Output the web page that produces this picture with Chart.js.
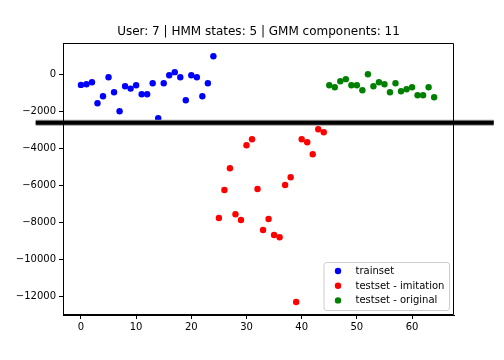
<!DOCTYPE html>
<html><head><meta charset="utf-8">
<script src="https://cdn.jsdelivr.net/npm/chart.js@4/dist/chart.umd.min.js"></script>
<style>html,body{margin:0;padding:0;background:#fff}#wrap{width:504px;height:360px}</style>
</head><body><div id="wrap"><canvas id="c" width="504" height="360"></canvas></div>
<script>
const titleText = 'User: 7 | HMM states: 5 | GMM components: 11';
const legendLabels = ['trainset', 'testset - imitation', 'testset - original'];
const seriesColors = ['#0000ff', '#ff0000', '#008000'];

const trainX = [0,1,2,3,4,5,6,7,8,9,10,11,12,13,14,15,16,17,18,19,20,21,22,23,24];
const trainY = [-543,-505,-396,-1537,-1157,-125,-939,-1971,-614,-744,-559,-1048,-1048,-451,-2351,-451,-16,147,-125,-1374,-16,-125,-1157,-451,1015];

const imitX = [25,26,27,28,29,30,31,32,33,34,35,36,37,38,39,40,41,42,43,44];
const imitY = [-7765,-6245,-5066,-7564,-7874,-3817,-3491,-6190,-8417,-7819,-8688,-8813,-5973,-5555,-12326,-3491,-3654,-4306,-2948,-3111];

const origX = [45,46,47,48,49,50,51,52,53,54,55,56,57,58,59,60,61,62,63,64];
const origY = [-559,-668,-342,-233,-559,-559,-831,38,-614,-396,-505,-939,-451,-885,-777,-668,-1102,-1102,-668,-1211];

const thresholdX = [-8.2, 74.8];
const thresholdY = [-2600, -2600];

const xTicks = [0,10,20,30,40,50,60];
const yTicks = [-12000,-10000,-8000,-6000,-4000,-2000,0];

const pts = (xs, ys) => xs.map((x, i) => ({x: x, y: ys[i]}));
const FONT = 'DejaVu Sans';

const boxPlugin = {
  id: 'boxAndLegend',
  afterDraw(chart) {
    const ctx = chart.ctx, ca = chart.chartArea;
    ctx.save();
    ctx.strokeStyle = '#000';
    ctx.lineWidth = 1;
    ctx.beginPath();
    ctx.rect(Math.round(ca.left) + 0.5, Math.round(ca.top) + 0.5,
             Math.round(ca.right - ca.left) - 1, Math.round(ca.bottom - ca.top) - 1);
    ctx.stroke();
    // title
    ctx.fillStyle = '#000';
    ctx.font = '12px "' + FONT + '"';
    ctx.textAlign = 'center';
    ctx.textBaseline = 'middle';
    ctx.fillText(titleText, (ca.left + ca.right) / 2, ca.top - 11);
    // legend
    const bw = 125.5, bh = 48;
    const bx = ca.right - 5 - bw, by = ca.bottom - 5 - bh;
    ctx.beginPath();
    if (ctx.roundRect) ctx.roundRect(bx + 0.5, by + 0.5, bw, bh, 2.5); else ctx.rect(bx + 0.5, by + 0.5, bw, bh);
    ctx.fillStyle = 'rgba(255,255,255,0.8)';
    ctx.fill();
    ctx.strokeStyle = '#cccccc';
    ctx.stroke();
    ctx.font = '10px "' + FONT + '"';
    ctx.textBaseline = 'middle';
    ctx.textAlign = 'left';
    legendLabels.forEach((lab, i) => {
      const y = by + 9 + i * 14.7;
      ctx.beginPath();
      ctx.arc(bx + 14.5, y, 3.2, 0, Math.PI * 2);
      ctx.fillStyle = seriesColors[i];
      ctx.fill();
      ctx.fillStyle = '#000';
      ctx.fillText(lab, bx + 32, y + 0.5);
    });
    ctx.restore();
  }
};

const scatterDs = (label, xs, ys, color) => ({
  type: 'scatter', label: label, data: pts(xs, ys),
  backgroundColor: color, borderColor: color, borderWidth: 0,
  pointRadius: 3.2, pointHoverRadius: 3.2
});

new Chart(document.getElementById('c'), {
  type: 'scatter',
  data: {
    datasets: [
      {type: 'line', label: 'threshold', data: pts(thresholdX, thresholdY), borderColor: '#000',
       borderWidth: 4, pointRadius: 0, clip: false, fill: false},
      {type: 'line', label: 'threshold-edge', data: pts(thresholdX, thresholdY), borderColor: '#9a9a9a',
       borderWidth: 6, pointRadius: 0, clip: false, fill: false},
      scatterDs(legendLabels[0], trainX, trainY, seriesColors[0]),
      scatterDs(legendLabels[1], imitX, imitY, seriesColors[1]),
      scatterDs(legendLabels[2], origX, origY, seriesColors[2])
    ]
  },
  options: {
    responsive: false, animation: false, devicePixelRatio: 1,
    layout: {padding: {left: 0, right: 50, top: 43, bottom: 0}},
    plugins: {
      legend: {display: false},
      tooltip: {enabled: false},
      title: {display: false}
    },
    scales: {
      x: {
        type: 'linear', min: -3.25, max: 67.6,
        afterBuildTicks: s => { s.ticks = xTicks.map(v => ({value: v})); },
        afterFit: s => { s.height = 45; },
        grid: {drawOnChartArea: false, drawTicks: true, tickLength: 4, color: '#000'},
        border: {display: true, color: '#000'},
        ticks: {color: '#000', font: {family: FONT, size: 10}, padding: 2, maxRotation: 0,
                callback: v => String(v).replace('-', '\u2212')}
      },
      y: {
        type: 'linear', min: -13030, max: 1730,
        afterBuildTicks: s => { s.ticks = yTicks.map(v => ({value: v})); },
        afterFit: s => { s.width = 63; },
        grid: {drawOnChartArea: false, drawTicks: true, tickLength: 4, color: '#000'},
        border: {display: true, color: '#000'},
        ticks: {color: '#000', font: {family: FONT, size: 10}, padding: 3,
                callback: v => String(v).replace('-', '\u2212')}
      }
    }
  },
  plugins: [boxPlugin]
});
</script>
</body></html>
